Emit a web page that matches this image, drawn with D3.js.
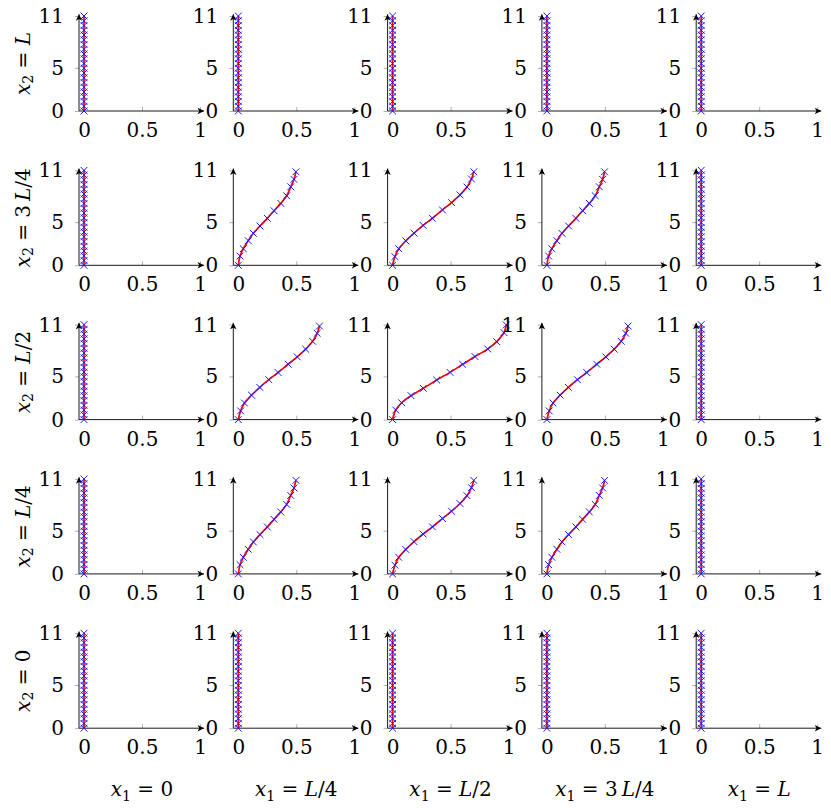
<!DOCTYPE html>
<html>
<head>
<meta charset="utf-8">
<script src="https://cdn.jsdelivr.net/npm/d3@7"></script>
<style>
  body { margin: 0; background: #fff; }
  svg text { font-family: "DejaVu Serif", serif; fill: #000; }
</style>
</head>
<body>
<div id="chart"></div>
<script>
// small multiples: displacement profile x(y) for each (x1, x2) position

var rowLabels = ["L", "3\u2009L/4", "L/2", "L/4", "0"];   // x2 values, top to bottom
var colLabels = ["0", "L/4", "L/2", "3\u2009L/4", "L"];    // x1 values, left to right

var xTicks = [0, 0.5, 1];
var yTicks = [0, 5, 11];

// straight (zero) profile
var yStraight = [0, 0.55, 1.1, 1.65, 2.2, 2.75, 3.3, 3.85, 4.4, 4.95, 5.5, 6.05, 6.6, 7.15, 7.7, 8.25, 8.8, 9.35, 9.9, 10.45, 11];
var xStraight = [0, 0, 0, 0, 0, 0, 0, 0, 0, 0, 0, 0, 0, 0, 0, 0, 0, 0, 0, 0, 0];

// corner profile (x1, x2 in {L/4, 3L/4})
var yCorner = [0, 1.07, 1.92, 2.85, 3.70, 4.55, 5.44, 6.32, 7.17, 8.05, 9.09, 9.95, 10.83];
var xCorner = [0, 0.015, 0.043, 0.086, 0.130, 0.187, 0.250, 0.308, 0.366, 0.417, 0.452, 0.480, 0.497];

// edge-middle profile
var yEdge = [0, 1.01, 1.92, 2.83, 3.73, 4.62, 5.45, 6.41, 7.26, 8.15, 9.06, 9.99, 10.83];
var xEdge = [0, 0.020, 0.053, 0.114, 0.185, 0.263, 0.343, 0.430, 0.508, 0.581, 0.641, 0.680, 0.700];

// centre profile
var yCenter = [0, 1.11, 1.95, 2.77, 3.62, 4.58, 5.47, 6.40, 7.30, 8.18, 9.03, 10.07, 10.96];
var xCenter = [0, 0.027, 0.078, 0.159, 0.265, 0.380, 0.495, 0.604, 0.710, 0.820, 0.897, 0.960, 0.980];

var profiles = {
    s: { x: xStraight, y: yStraight },
    c: { x: xCorner, y: yCorner },
    e: { x: xEdge, y: yEdge },
    m: { x: xCenter, y: yCenter }
};

var layout = [
    ["s", "s", "s", "s", "s"],
    ["s", "c", "e", "c", "s"],
    ["s", "e", "m", "e", "s"],
    ["s", "c", "e", "c", "s"],
    ["s", "s", "s", "s", "s"]
];

var width = 831, height = 810;
var pitch = 154.3;
var originX = 79, originY = 111;
var fontSize = 20;
var fontFamily = "'DejaVu Serif', serif";

var svg = d3.select("#chart")
    .append("svg")
    .attr("width", width)
    .attr("height", height);

var defs = svg.append("defs");
defs.append("marker")
    .attr("id", "arrow")
    .attr("markerUnits", "userSpaceOnUse")
    .attr("markerWidth", 10)
    .attr("markerHeight", 10)
    .attr("viewBox", "-8 -4 10 8")
    .attr("refX", 0)
    .attr("refY", 0)
    .attr("orient", "auto")
    .append("path")
    .attr("d", "M0,0 L-6.5,-3.2 L-4.8,0 L-6.5,3.2 Z")
    .attr("fill", "#000");

// panel-local scales; (0,0) of the group is where the two axis lines meet
var x = d3.scaleLinear().domain([0, 1]).range([5, 121]);
var y = d3.scaleLinear().domain([0, 11]).range([0, -95]);

var line = d3.line()
    .x(function(d) { return x(d[0]); })
    .y(function(d) { return y(d[1]); })
    .curve(d3.curveCatmullRom);

function drawPanel(g, key) {
    var p = profiles[key];
    var pts = p.x.map(function(v, i) { return [v, p.y[i]]; });

    var xAxis = d3.axisBottom(x).tickValues(xTicks)
        .tickSizeInner(-4).tickSizeOuter(0).tickPadding(12)
        .tickFormat(d3.format(""));
    var yAxis = d3.axisLeft(y).tickValues(yTicks)
        .tickSizeInner(4).tickSizeOuter(0).tickPadding(11)
        .tickFormat(d3.format(""));

    var gx = g.append("g").call(xAxis);
    var gy = g.append("g").call(yAxis);
    [gx, gy].forEach(function(a) {
        a.attr("font-family", fontFamily).attr("font-size", fontSize);
        a.select(".domain").remove();
        a.selectAll(".tick line").attr("stroke", "#9a9a9a").attr("stroke-width", 0.8);
        a.selectAll(".tick text")
            .attr("font-family", fontFamily)
            .attr("font-size", fontSize)
            .attr("fill", "#000");
    });

    // axis lines with arrow heads
    g.append("line")
        .attr("x1", 0).attr("y1", 0)
        .attr("x2", x(1.035)).attr("y2", 0)
        .attr("stroke", "#000").attr("stroke-width", 0.9)
        .attr("marker-end", "url(#arrow)");
    g.append("line")
        .attr("x1", 0).attr("y1", 0)
        .attr("x2", 0).attr("y2", y(11.2))
        .attr("stroke", "#000").attr("stroke-width", 0.9)
        .attr("marker-end", "url(#arrow)");

    g.append("path")
        .datum(pts)
        .attr("d", line)
        .attr("fill", "none")
        .attr("stroke", "#ff0000")
        .attr("stroke-width", 1.7);

    var s = 3.4;
    g.selectAll(".mark")
        .data(pts)
        .enter()
        .append("path")
        .attr("class", "mark")
        .attr("transform", function(d) { return "translate(" + x(d[0]) + "," + y(d[1]) + ")"; })
        .attr("d", "M" + (-s) + "," + (-s) + "L" + s + "," + s + "M" + (-s) + "," + s + "L" + s + "," + (-s))
        .attr("stroke", "#1a1aff")
        .attr("stroke-width", 1);
}

layout.forEach(function(row, r) {
    row.forEach(function(key, c) {
        var g = svg.append("g")
            .attr("transform", "translate(" + (originX + c * pitch) + "," + (originY + r * pitch) + ")");
        drawPanel(g, key);
    });
});

// math-style label: x_k = value
function mathLabel(t, idx, value) {
    t.append("tspan").attr("font-style", "italic").text("x");
    t.append("tspan").attr("dy", 5).attr("font-size", 14).text(idx);
    t.append("tspan").attr("dy", -5).text(" = ");
    value.split("").forEach(function(ch) {
        t.append("tspan")
            .attr("font-style", ch === "L" ? "italic" : "normal")
            .text(ch);
    });
}

rowLabels.forEach(function(v, r) {
    var cy = originY + r * pitch - 47.5;
    var t = svg.append("text")
        .attr("transform", "translate(23," + cy + ") rotate(-90)")
        .attr("text-anchor", "middle")
        .attr("dominant-baseline", "central")
        .attr("font-family", fontFamily)
        .attr("font-size", fontSize);
    mathLabel(t, "2", v);
});

colLabels.forEach(function(v, c) {
    var cx = originX + c * pitch + 63;
    var t = svg.append("text")
        .attr("x", cx)
        .attr("y", 796)
        .attr("text-anchor", "middle")
        .attr("font-family", fontFamily)
        .attr("font-size", fontSize);
    mathLabel(t, "1", v);
});
</script>
</body>
</html>
